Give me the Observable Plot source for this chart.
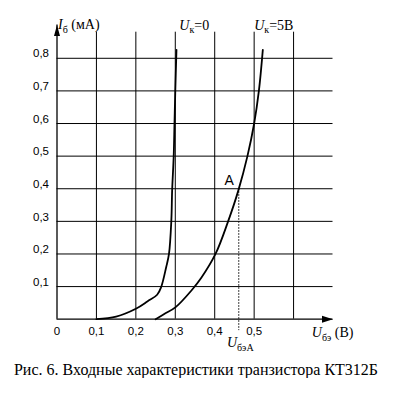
<!DOCTYPE html>
<html><head><meta charset="utf-8">
<script src="https://cdn.jsdelivr.net/npm/d3@7"></script>
<script src="https://cdn.jsdelivr.net/npm/@observablehq/plot@0.6"></script>
<style>
html,body{margin:0;padding:0;background:#fff;}
#cap{font-family:"Liberation Serif","Times New Roman",serif;font-size:16px;line-height:16px;text-align:center;margin-top:6px;color:#000;width:392px;white-space:nowrap;}
</style></head><body><div id="chart"></div><div id="cap"></div>
<script>
// ---- data ----
const xTicks = [0, 0.1, 0.2, 0.3, 0.4, 0.5];
const xTickLabels = ["0", "0,1", "0,2", "0,3", "0,4", "0,5"];
const yTicks = [0.1, 0.2, 0.3, 0.4, 0.5, 0.6, 0.7, 0.8];
const yTickLabels = ["0,1", "0,2", "0,3", "0,4", "0,5", "0,6", "0,7", "0,8"];
const gridX = [0.1, 0.2, 0.3, 0.4, 0.5, 0.6];
const gridY = [0.1, 0.2, 0.3, 0.4, 0.5, 0.6, 0.7, 0.8];
// Uк = 0 curve
const uk0U = [0.1, 0.15, 0.2, 0.23, 0.254, 0.264, 0.277, 0.284, 0.29, 0.292, 0.296, 0.298, 0.3, 0.303];
const uk0I = [0, 0.008, 0.032, 0.055, 0.075, 0.098, 0.16, 0.2, 0.303, 0.394, 0.5, 0.6, 0.7, 0.826];
// Uк = 5 В curve
const uk5U = [0.25, 0.275, 0.301, 0.341, 0.366, 0.402, 0.434, 0.46, 0.483, 0.5, 0.512, 0.522];
const uk5I = [0, 0.018, 0.037, 0.088, 0.127, 0.2, 0.3, 0.395, 0.5, 0.6, 0.7, 0.826];
// operating point A
const pointAU = 0.461;
const pointAI = 0.4;
const pointLabel = "A";
const caption = "Рис. 6. Входные характеристики транзистора КТ312Б";

// ---- layout constants ----
const xMax = 0.7, yMax = 0.88, yAxisTop = 0.902;

const uk0 = uk0U.map((u, i) => ({u, i: uk0I[i]}));
const uk5 = uk5U.map((u, i) => ({u, i: uk5I[i]}));

const arrowUp = {draw(ctx) { ctx.moveTo(0, 0); ctx.lineTo(3, 11); ctx.lineTo(-3, 11); ctx.closePath(); }};
const arrowRight = {draw(ctx) { ctx.moveTo(0, 0); ctx.lineTo(-11, -3.5); ctx.lineTo(-11, 3.5); ctx.closePath(); }};

const sans = "'Liberation Sans', Arial, sans-serif";
const serif = "'Liberation Serif', 'Times New Roman', serif";

const chart = Plot.plot({
  width: 395,
  height: 356,
  marginLeft: 56.5,
  marginRight: 62.5,
  marginTop: 31.7,
  marginBottom: 37.3,
  style: {fontFamily: sans, fontSize: "11.5px", background: "#fff", color: "#000", overflow: "visible"},
  x: {domain: [0, xMax]},
  y: {domain: [0, yMax]},
  marks: [
    Plot.ruleX(gridX, {x: d => d, y1: 0, y2: yMax, stroke: "#000", strokeWidth: 1}),
    Plot.ruleY(gridY, {y: d => d, x1: 0, x2: xMax, stroke: "#000", strokeWidth: 1}),
    Plot.ruleX([0], {x: d => d, y1: 0, y2: yAxisTop, stroke: "#000", strokeWidth: 1.3}),
    Plot.ruleY([0], {y: d => d, x1: 0, x2: xMax, stroke: "#000", strokeWidth: 1.3}),
    Plot.dot([0], {x: d => d, y: yAxisTop, symbol: arrowUp, fill: "#000", stroke: "none"}),
    Plot.dot([0], {x: xMax, y: d => d, symbol: arrowRight, fill: "#000", stroke: "none"}),
    Plot.axisY(yTicks, {tickSize: 0, tickPadding: 8, dy: -4.5, label: null, fontSize: 11.5,
      tickFormat: d => yTickLabels[yTicks.indexOf(d)]}),
    Plot.axisX(xTicks, {tickSize: 0, tickPadding: 8, label: null, fontSize: 11.5,
      tickFormat: d => xTickLabels[xTicks.indexOf(d)]}),
    Plot.ruleX([pointAU], {x: d => d, y1: pointAI, y2: -0.035, stroke: "#000", strokeWidth: 1, strokeDasharray: "1.5,1.5"}),
    Plot.line(uk0, {x: "u", y: "i", stroke: "#000", strokeWidth: 1.8, curve: "catmull-rom"}),
    Plot.line(uk5, {x: "u", y: "i", stroke: "#000", strokeWidth: 1.8, curve: "catmull-rom"}),
    Plot.text([pointLabel], {x: pointAU, y: pointAI, text: d => d, dx: -9.5, dy: -8.5, fontSize: 14, fontFamily: sans, fill: "#000"})
  ]
});
document.getElementById("chart").appendChild(chart);

// rich (sub-scripted) labels positioned through the plot's scales
const xs = chart.scale("x"), ys = chart.scale("y");
const sx = d3.scaleLinear(xs.domain, xs.range), sy = d3.scaleLinear(ys.domain, ys.range);
const svg = d3.select(chart);
function rich(xv, yv, dx, dy, anchor, parts) {
  const t = svg.append("text")
    .attr("x", sx(xv) + dx).attr("y", sy(yv) + dy)
    .attr("text-anchor", anchor)
    .attr("font-family", serif).attr("font-size", 14).attr("fill", "#000");
  let shift = 0;
  for (const p of parts) {
    const ts = t.append("tspan").text(p.t);
    if (p.italic) ts.attr("font-style", "italic");
    const want = p.sub ? 3.5 : 0;
    if (want !== shift) { ts.attr("dy", want - shift); shift = want; }
    ts.attr("font-size", p.sub ? 10 : 14);
  }
}
rich(0, yMax, 1.5, -2.5, "start", [{t: "I", italic: true}, {t: "б", sub: true}, {t: " (мА)"}]);
rich(0.3, yMax, 4.5, -2, "start", [{t: "U", italic: true}, {t: "к", sub: true}, {t: "=0"}]);
rich(0.5, yMax, 0.5, -2, "start", [{t: "U", italic: true}, {t: "к", sub: true}, {t: "=5В"}]);
rich(xMax, 0, 21, 18.3, "end", [{t: "U", italic: true}, {t: "бэ", sub: true}, {t: " (В)"}]);
rich(pointAU, 0, 2, 28.3, "middle", [{t: "U", italic: true}, {t: "бэА", sub: true}]);

document.getElementById("cap").textContent = caption;
</script>
</body></html>
